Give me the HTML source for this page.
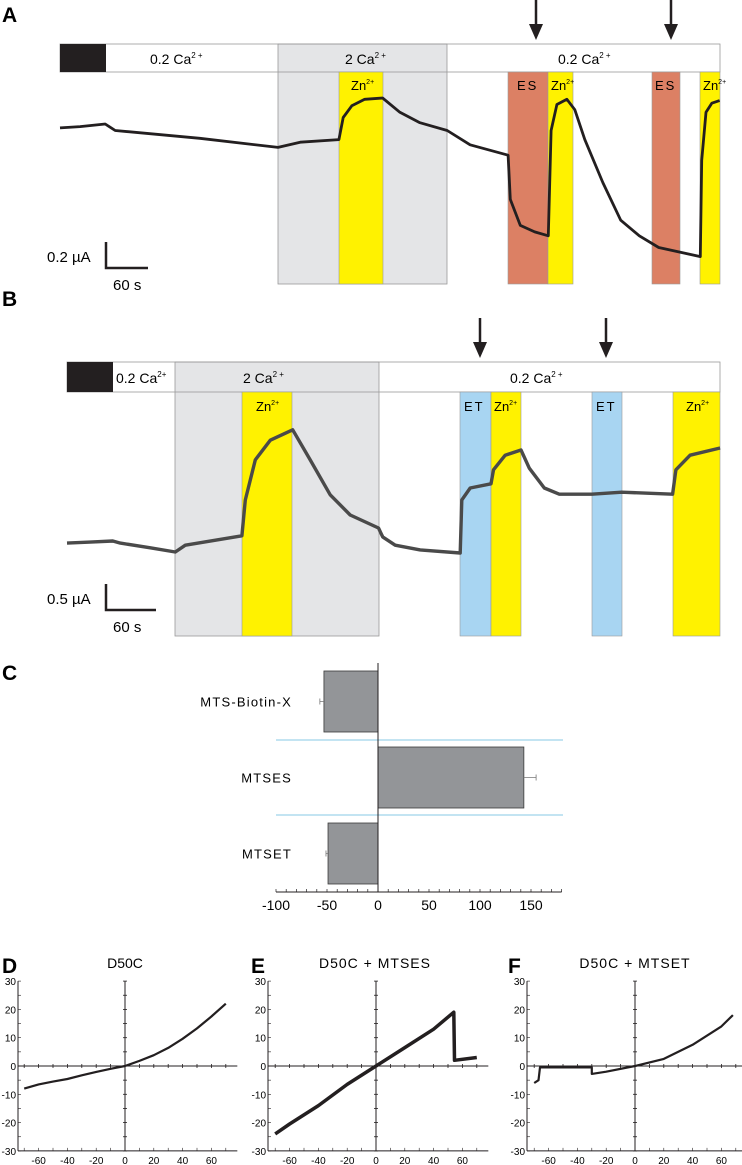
<!DOCTYPE html>
<html><head><meta charset="utf-8"><style>
html,body{margin:0;padding:0;background:#fff;}
svg{display:block;font-family:"Liberation Sans",sans-serif;}
</style></head><body>
<svg id="fig" width="742" height="1165" viewBox="0 0 742 1165" xmlns="http://www.w3.org/2000/svg">
<g>
<text x="2" y="22" font-size="21" font-weight="bold">A</text>
<rect x="278" y="44" width="169" height="240" fill="#e4e5e7" stroke="#999" stroke-width="0.8"/>
<rect x="60" y="44" width="660" height="28" fill="none" stroke="#999" stroke-width="0.8"/>
<rect x="60" y="44" width="46" height="28" fill="#231f20"/>
<rect x="339" y="72" width="44" height="212" fill="#fff200" stroke="#999" stroke-width="0.6"/>
<rect x="508" y="72" width="40" height="212" fill="#dc8064" stroke="#999" stroke-width="0.6"/>
<rect x="548" y="72" width="25" height="212" fill="#fff200" stroke="#999" stroke-width="0.6"/>
<rect x="652" y="72" width="28" height="212" fill="#dc8064" stroke="#999" stroke-width="0.6"/>
<rect x="700" y="72" width="20" height="212" fill="#fff200" stroke="#999" stroke-width="0.6"/>
<text x="150" y="64" font-size="14">0.2 Ca<tspan font-size="8" dy="-6">2 +</tspan></text>
<text x="345" y="64" font-size="14">2 Ca<tspan font-size="8" dy="-6">2 +</tspan></text>
<text x="558" y="64" font-size="14">0.2 Ca<tspan font-size="8" dy="-6">2 +</tspan></text>
<text x="351" y="90" font-size="13">Zn<tspan font-size="7" dy="-6">2+</tspan></text>
<text x="517" y="90" font-size="13" letter-spacing="2">ES</text>
<text x="551" y="90" font-size="13">Zn<tspan font-size="7" dy="-6">2+</tspan></text>
<text x="655" y="90" font-size="13" letter-spacing="2">ES</text>
<text x="703" y="90" font-size="13">Zn<tspan font-size="7" dy="-6">2+</tspan></text>
<g><line x1="536" y1="0" x2="536" y2="26" stroke="#231f20" stroke-width="2.5"/><polygon points="529,24 543,24 536,40" fill="#231f20"/></g>
<g><line x1="671" y1="0" x2="671" y2="26" stroke="#231f20" stroke-width="2.5"/><polygon points="664,24 678,24 671,40" fill="#231f20"/></g>
<path d="M106 242 V268 H148" fill="none" stroke="#231f20" stroke-width="2.5"/>
<text x="47" y="262" font-size="15">0.2 µA</text>
<text x="113" y="290" font-size="15">60 s</text>
<g id="traceA"></g>
</g>
<g>
<text x="2" y="306" font-size="21" font-weight="bold">B</text>
<rect x="175" y="362" width="204" height="274" fill="#e4e5e7" stroke="#999" stroke-width="0.8"/>
<rect x="67" y="362" width="653" height="30" fill="none" stroke="#999" stroke-width="0.8"/>
<rect x="67" y="362" width="46" height="30" fill="#231f20"/>
<rect x="242" y="392" width="50" height="244" fill="#fff200" stroke="#999" stroke-width="0.6"/>
<rect x="460" y="392" width="31" height="244" fill="#a8d5f2" stroke="#999" stroke-width="0.6"/>
<rect x="491" y="392" width="30" height="244" fill="#fff200" stroke="#999" stroke-width="0.6"/>
<rect x="592" y="392" width="30" height="244" fill="#a8d5f2" stroke="#999" stroke-width="0.6"/>
<rect x="673" y="392" width="47" height="244" fill="#fff200" stroke="#999" stroke-width="0.6"/>
<text x="116" y="383" font-size="14">0.2 Ca<tspan font-size="8" dy="-6">2+</tspan></text>
<text x="243" y="383" font-size="14">2 Ca<tspan font-size="8" dy="-6">2 +</tspan></text>
<text x="510" y="383" font-size="14">0.2 Ca<tspan font-size="8" dy="-6">2 +</tspan></text>
<text x="256" y="411" font-size="13">Zn<tspan font-size="7" dy="-6">2+</tspan></text>
<text x="464" y="411" font-size="13" letter-spacing="2">ET</text>
<text x="494" y="411" font-size="13">Zn<tspan font-size="7" dy="-6">2+</tspan></text>
<text x="596" y="411" font-size="13" letter-spacing="2">ET</text>
<text x="686" y="411" font-size="13">Zn<tspan font-size="7" dy="-6">2+</tspan></text>
<g><line x1="480" y1="318" x2="480" y2="344" stroke="#231f20" stroke-width="2.5"/><polygon points="473,342 487,342 480,358" fill="#231f20"/></g>
<g><line x1="606" y1="318" x2="606" y2="344" stroke="#231f20" stroke-width="2.5"/><polygon points="599,342 613,342 606,358" fill="#231f20"/></g>
<path d="M106 584 V610 H156" fill="none" stroke="#231f20" stroke-width="2.5"/>
<text x="47" y="604" font-size="15">0.5 µA</text>
<text x="113" y="632" font-size="15">60 s</text>
<g id="traceB"></g>
</g>
<g>
<text x="2" y="680" font-size="21" font-weight="bold">C</text>
<g id="chartC"></g>
</g>
<g>
<text x="2" y="973" font-size="21" font-weight="bold">D</text>
<text x="251" y="973" font-size="21" font-weight="bold">E</text>
<text x="508" y="973" font-size="21" font-weight="bold">F</text>
<text x="125" y="968" font-size="14" text-anchor="middle">D50C</text>
<text x="375" y="968" font-size="14" text-anchor="middle" letter-spacing="1">D50C + MTSES</text>
<text x="635" y="968" font-size="14" text-anchor="middle" letter-spacing="1">D50C + MTSET</text>
<g id="ivPlots"></g>
</g>
</svg>
<script>
// Panel A trace data (time s, current µA)
const aTime = [0,28,63,77,195,304,335,389,395,407,425,450,474,502,540,572,625,628,642,662,681,685,693,707,718,732,757,782,808,835,893,895,901,909,920];
const aCurrent = [0.17,0.18,0.20,0.15,0.09,0.02,0.06,0.08,0.25,0.34,0.39,0.40,0.29,0.21,0.15,0.04,-0.04,-0.38,-0.58,-0.63,-0.66,0.15,0.35,0.39,0.31,0.08,-0.25,-0.54,-0.66,-0.75,-0.82,-0.08,0.29,0.36,0.38];
// Panel B trace data
const bTime = [0,28,55,64,100,130,142,210,214,226,244,271,292,316,340,374,379,394,424,472,474,484,509,512,526,545,555,573,591,630,666,727,731,748,784];
const bCurrent = [-0.06,-0.04,-0.02,-0.06,-0.15,-0.23,-0.10,0.08,0.77,1.54,1.92,2.12,1.54,0.87,0.48,0.23,0.06,-0.10,-0.19,-0.25,0.77,1.00,1.08,1.35,1.63,1.73,1.38,1.00,0.88,0.88,0.92,0.88,1.35,1.63,1.77];
// Panel C bar data
const cCategories = ["MTS-Biotin-X","MTSES","MTSET"];
const cValues = [-53,143,-49];
const cErrors = [4,12,2];
const cTicks = [-100,-50,0,50,100,150];
// IV data (mV, µA)
const dV = [-70,-60,-50,-40,-30,-20,-10,0,10,20,30,40,50,60,70];
const dI = [-8,-6.5,-5.5,-4.6,-3.3,-2.1,-1,0,1.8,3.8,6.4,9.6,13.3,17.5,22];
const eV = [-70,-60,-40,-20,0,20,40,54,54.5,70];
const eI = [-24,-20.5,-14,-6.5,0,6.5,13,19,2,3];
const fV = [-70,-67,-66,-50,-30,-30,-20,0,20,40,60,68];
const fI = [-6,-5,-0.5,-0.5,-0.5,-2.8,-2,0,2.5,7.5,14,18];
const ivTicksX = [-60,-40,-20,0,20,40,60];
const ivTicksY = [30,20,10,0,-10,-20,-30];

const NS = "http://www.w3.org/2000/svg";
function mk(tag, attrs, parent){const e=document.createElementNS(NS,tag);for(const k in attrs)e.setAttribute(k,attrs[k]);parent.appendChild(e);return e;}

const axA = t => 60 + t*0.717, ayA = v => 150 - v*130;
let dA = aTime.map((t,i)=>(i?'L':'M')+axA(t).toFixed(1)+' '+ayA(aCurrent[i]).toFixed(1)).join(' ');
const pA = mk('path',{d:dA,fill:'none',stroke:'#231f20','stroke-width':2.8,'stroke-linejoin':'round'},document.getElementById('traceA'));



const axB = t => 67 + t*0.833, ayB = v => 540 - v*52;
let dB = bTime.map((t,i)=>(i?'L':'M')+axB(t).toFixed(1)+' '+ayB(bCurrent[i]).toFixed(1)).join(' ');
const pB = mk('path',{d:dB,fill:'none',stroke:'#4a4a4a','stroke-width':3.4,'stroke-linejoin':'round'},document.getElementById('traceB'));



const gC = document.getElementById('chartC');
const cx = v => 378 + v*1.02;
const rowTop=[671,747,823], rowH=[61,61,61];
[740,815].forEach(y=>{const l=mk('line',{x1:276,x2:563,y1:y,y2:y,stroke:'#9fd3ea','stroke-width':1.2},gC);

});
cCategories.forEach((c,i)=>{
  const v=cValues[i], x0=Math.min(cx(0),cx(v)), w=Math.abs(cx(v)-cx(0));
  const r=mk('rect',{x:x0,y:rowTop[i],width:w,height:rowH[i],fill:'#939598',stroke:'#3a3a3a','stroke-width':0.8},gC);
  
  
  const ym=rowTop[i]+rowH[i]/2, ex=cx(v+Math.sign(v)*cErrors[i]);
  const e=mk('path',{d:`M${cx(v)} ${ym} H${ex} M${ex} ${ym-3} V${ym+3}`,stroke:'#777','stroke-width':0.8,fill:'none'},gC);
  
  
  const t=mk('text',{x:292,y:ym+5,'font-size':13,'text-anchor':'end','letter-spacing':1.2},gC);
  t.textContent=c;
  
  
});
const z=mk('line',{x1:cx(0),x2:cx(0),y1:663,y2:892,stroke:'#231f20','stroke-width':1},gC);


const xa=mk('line',{x1:cx(-100),x2:cx(180),y1:892,y2:892,stroke:'#231f20','stroke-width':1},gC);


for(let v=-100;v<=180;v+=10){mk('line',{x1:cx(v),x2:cx(v),y1:889,y2:892,stroke:'#231f20','stroke-width':0.7},gC);}
cTicks.forEach(v=>{const t=mk('text',{x:cx(v),y:910,'font-size':14,'text-anchor':'middle'},gC);t.textContent=v;

});

const gIV=document.getElementById('ivPlots');
const panels=[{left:18,zero:125,V:dV,I:dI,n:'d'},{left:268,zero:376,V:eV,I:eI,n:'e'},{left:527,zero:635,V:fV,I:fI,n:'f'}];
const iy = v => 1066 - v*2.83;
panels.forEach(p=>{
  const ix = v => p.zero + v*1.44;
  const g=mk('g',{},gIV);
  
  
  mk('line',{x1:p.left,x2:p.left,y1:iy(30),y2:iy(-30),stroke:'#231f20','stroke-width':1},g);
  mk('line',{x1:ix(0),x2:ix(0),y1:iy(30),y2:iy(-30),stroke:'#231f20','stroke-width':1},g);
  mk('line',{x1:p.left,x2:ix(78),y1:iy(0),y2:iy(0),stroke:'#231f20','stroke-width':1},g);
  mk('line',{x1:p.left,x2:ix(78),y1:iy(-30),y2:iy(-30),stroke:'#231f20','stroke-width':1},g);
  for(let v=-70;v<=70;v+=10){mk('line',{x1:ix(v),x2:ix(v),y1:iy(0)-2,y2:iy(0)+2,stroke:'#231f20','stroke-width':0.8},g);
    mk('line',{x1:ix(v),x2:ix(v),y1:iy(-30)-3,y2:iy(-30),stroke:'#231f20','stroke-width':0.6},g);}
  for(let v=-30;v<=30;v+=5){mk('line',{x1:p.left,x2:p.left+3,y1:iy(v),y2:iy(v),stroke:'#231f20','stroke-width':0.6},g);}
  for(let v=-30;v<=30;v+=5){mk('line',{x1:ix(0)-2,x2:ix(0)+2,y1:iy(v),y2:iy(v),stroke:'#231f20','stroke-width':0.8},g);}
  ivTicksY.forEach(v=>{const t=mk('text',{x:p.left-2,y:iy(v)+4,'font-size':10,'text-anchor':'end'},g);t.textContent=v;
    
    });
  ivTicksX.forEach(v=>{const t=mk('text',{x:ix(v),y:iy(-30)+13,'font-size':10,'text-anchor':'middle'},g);t.textContent=v;
    
    });
  const d=p.V.map((v,i)=>(i?'L':'M')+ix(v).toFixed(1)+' '+iy(p.I[i]).toFixed(1)).join(' ');
  const c=mk('path',{d:d,fill:'none',stroke:'#231f20','stroke-width':p.n==='e'?3.5:2.2,'stroke-linejoin':'round'},g);
  
  
});
</script>
</body></html>
